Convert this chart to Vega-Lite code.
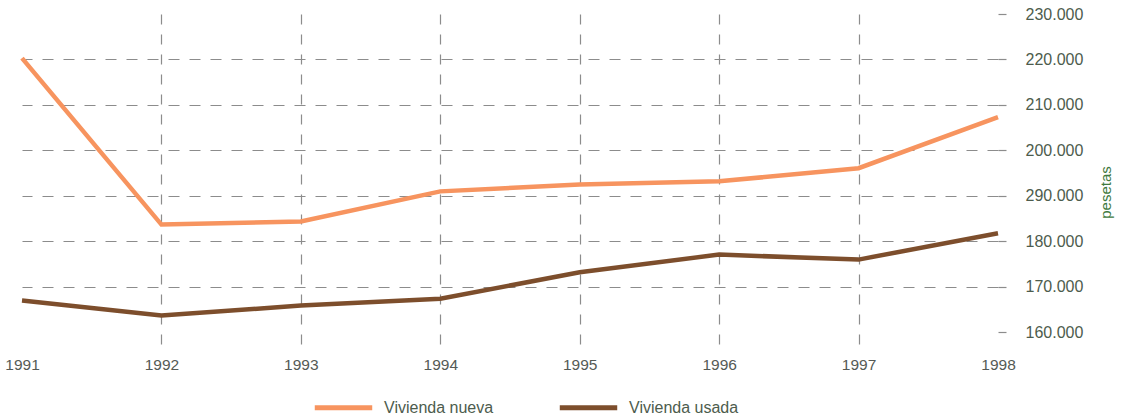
{
  "$schema": "https://vega.github.io/schema/vega-lite/v6.json",
  "width": 976,
  "height": 332,
  "autosize": "none",
  "padding": {"left": 22, "top": 14, "right": 126, "bottom": 72},
  "background": "white",
  "config": {
    "view": {"stroke": null},
    "font": "Liberation Sans",
    "axis": {"labelFont": "Liberation Sans", "titleFont": "Liberation Sans"},
    "legend": {"labelFont": "Liberation Sans"}
  },
  "data": {
    "values": [
      {"year": 1991, "serie": "Vivienda nueva", "valor": 220300},
      {"year": 1992, "serie": "Vivienda nueva", "valor": 183700},
      {"year": 1993, "serie": "Vivienda nueva", "valor": 184400},
      {"year": 1994, "serie": "Vivienda nueva", "valor": 191000},
      {"year": 1995, "serie": "Vivienda nueva", "valor": 192500},
      {"year": 1996, "serie": "Vivienda nueva", "valor": 193200},
      {"year": 1997, "serie": "Vivienda nueva", "valor": 196100},
      {"year": 1998, "serie": "Vivienda nueva", "valor": 207300},
      {"year": 1991, "serie": "Vivienda usada", "valor": 167000},
      {"year": 1992, "serie": "Vivienda usada", "valor": 163700},
      {"year": 1993, "serie": "Vivienda usada", "valor": 165900},
      {"year": 1994, "serie": "Vivienda usada", "valor": 167400},
      {"year": 1995, "serie": "Vivienda usada", "valor": 173200},
      {"year": 1996, "serie": "Vivienda usada", "valor": 177100},
      {"year": 1997, "serie": "Vivienda usada", "valor": 176000},
      {"year": 1998, "serie": "Vivienda usada", "valor": 181800}
    ]
  },
  "mark": {"type": "line", "strokeWidth": 4.5, "strokeCap": "butt", "strokeJoin": "miter"},
  "encoding": {
    "x": {
      "field": "year",
      "type": "quantitative",
      "scale": {"domain": [1991, 1998], "nice": false, "zero": false},
      "axis": {
        "title": null,
        "values": [1991, 1992, 1993, 1994, 1995, 1996, 1997, 1998],
        "format": "d",
        "domain": false,
        "ticks": false,
        "labelFlush": false,
        "labelOverlap": false,
        "labelPadding": 11,
        "labelFontSize": 15.5,
        "labelColor": "#555a55",
        "grid": true,
        "gridColor": "#8c8c8c",
        "gridWidth": 1.2,
        "gridDash": [10, 10],
        "gridOpacity": {"condition": {"test": "datum.value > 1991 && datum.value < 1998", "value": 1}, "value": 0}
      }
    },
    "y": {
      "field": "valor",
      "type": "quantitative",
      "scale": {"domain": [157000, 230000], "nice": false, "zero": false},
      "axis": {
        "orient": "right",
        "title": "pesetas",
        "titleAngle": 270,
        "titleFontSize": 15,
        "titleFontWeight": "normal",
        "titleColor": "#3f7a3f",
        "titlePadding": 31,
        "titleY": 178,
        "values": [160000, 170000, 180000, 190000, 200000, 210000, 220000, 230000],
        "labelExpr": "datum.value == 190000 ? '290.000' : replace(format(datum.value, ','), ',', '.')",
        "domain": false,
        "ticks": true,
        "tickSize": 8,
        "tickColor": "#8c8c8c",
        "tickWidth": 1.2,
        "labelPadding": 19,
        "labelFontSize": 16,
        "labelColor": "#4d5c4d",
        "labelBaseline": "middle",
        "grid": true,
        "gridColor": "#8c8c8c",
        "gridWidth": 1.2,
        "gridDash": [11, 10],
        "gridOpacity": {"condition": {"test": "datum.value >= 170000 && datum.value <= 220000", "value": 1}, "value": 0}
      }
    },
    "color": {
      "field": "serie",
      "type": "nominal",
      "scale": {"domain": ["Vivienda nueva", "Vivienda usada"], "range": ["#F7945F", "#7D4E2C"]},
      "legend": {
        "title": null,
        "orient": "none",
        "direction": "horizontal",
        "legendX": 290,
        "legendY": 362,
        "symbolType": "stroke",
        "symbolSize": 3300,
        "symbolStrokeWidth": 5,
        "labelFontSize": 16,
        "labelColor": "#4d5c4d",
        "labelOffset": 9,
        "columnPadding": 55
      }
    }
  }
}
